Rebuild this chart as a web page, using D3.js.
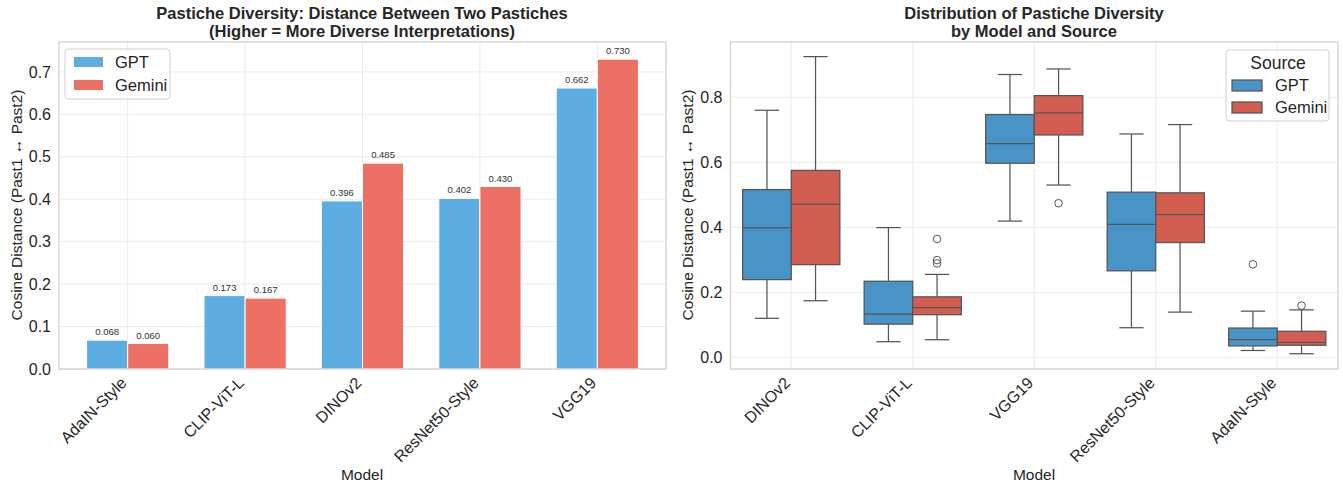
<!DOCTYPE html>
<html>
<head>
<meta charset="utf-8">
<script src="https://cdn.jsdelivr.net/npm/d3@7"></script>
<style>
  body { margin: 0; background: #fff; }
  text { font-family: "Liberation Sans", Arial, sans-serif; fill: #262626; }
</style>
</head>
<body>
<script>
// bar chart data
const barModels = ["AdaIN-Style", "CLIP-ViT-L", "DINOv2", "ResNet50-Style", "VGG19"]
const gptMeans = [0.068, 0.173, 0.396, 0.402, 0.662]
const geminiMeans = [0.060, 0.167, 0.485, 0.430, 0.730]

// box plot data: [lowWhisker, q1, median, q3, highWhisker]
const boxModels = ["DINOv2", "CLIP-ViT-L", "VGG19", "ResNet50-Style", "AdaIN-Style"]
const gptBoxes = [
  [0.120, 0.239, 0.398, 0.516, 0.760],
  [0.048, 0.102, 0.133, 0.234, 0.399],
  [0.419, 0.597, 0.657, 0.747, 0.870],
  [0.091, 0.266, 0.409, 0.508, 0.687],
  [0.021, 0.035, 0.054, 0.090, 0.142]
]
const geminiBoxes = [
  [0.174, 0.285, 0.471, 0.575, 0.925],
  [0.054, 0.131, 0.153, 0.186, 0.255],
  [0.530, 0.684, 0.752, 0.805, 0.887],
  [0.139, 0.353, 0.439, 0.506, 0.716],
  [0.011, 0.037, 0.046, 0.080, 0.146]
]
const gptOutliers = [[], [], [], [], [0.286]]
const geminiOutliers = [[], [0.364, 0.299, 0.289], [0.474], [], [0.159]]

const sources = ["GPT", "Gemini"]
const leftTicks = [0, 0.1, 0.2, 0.3, 0.4, 0.5, 0.6, 0.7]
const rightTicks = [0, 0.2, 0.4, 0.6, 0.8]

const w = 1343, h = 486
const svg = d3.select("body").append("svg").attr("width", w).attr("height", h)

const barColors = ["#5DADE2", "#EC7063"]
const boxColors = ["#4994C6", "#D25E52"]
const gridColor = "#ebebeb"
const frameColor = "#d0d0d0"
const lineColor = "#555555"

// ---------- left panel ----------
const xL = d3.scaleLinear().domain([-0.585, 4.585]).range([59, 666])
const yL = d3.scaleLinear().domain([0, 0.7705]).range([369, 42])
const left = svg.append("g")

left.selectAll(".hgrid").data(leftTicks).enter().append("line")
  .attr("x1", 59).attr("x2", 666)
  .attr("y1", d => yL(d)).attr("y2", d => yL(d))
  .attr("stroke", gridColor).attr("stroke-width", 1)
left.selectAll(".vgrid").data(barModels).enter().append("line")
  .attr("x1", (d, i) => xL(i)).attr("x2", (d, i) => xL(i))
  .attr("y1", 42).attr("y2", 369)
  .attr("stroke", gridColor).attr("stroke-width", 1)

const bw = 0.35
const barSeries = [gptMeans, geminiMeans]
barSeries.forEach((vals, s) => {
  left.selectAll(".bar" + s).data(vals).enter().append("rect")
    .attr("x", (d, i) => xL(i - bw + s * bw))
    .attr("width", xL(bw) - xL(0))
    .attr("y", d => yL(d))
    .attr("height", d => yL(0) - yL(d))
    .attr("fill", barColors[s])
    .attr("stroke", "#fff").attr("stroke-width", 1)
  left.selectAll(".lab" + s).data(vals).enter().append("text")
    .attr("x", (d, i) => xL(i - bw / 2 + s * bw))
    .attr("y", d => yL(d) - 5)
    .attr("text-anchor", "middle")
    .style("font-size", "9.5px").style("fill", "#333")
    .text(d => d.toFixed(3))
})

left.append("rect").attr("x", 59).attr("y", 42).attr("width", 607).attr("height", 327)
  .attr("fill", "none").attr("stroke", frameColor).attr("stroke-width", 1.25)

const yAxisL = d3.axisLeft(yL).tickValues(leftTicks).tickFormat(d3.format(".1f")).tickSize(0).tickPadding(8)
left.append("g").attr("transform", "translate(59,0)").call(yAxisL)
  .call(g => g.select(".domain").remove())
  .selectAll("text").style("font-size", "16px").style("fill", "#262626")
  .style("font-family", "Liberation Sans, Arial, sans-serif")

left.selectAll(".xlab").data(barModels).enter().append("text")
  .attr("transform", (d, i) => "translate(" + (xL(i) - 4) + ",380) rotate(-45)")
  .attr("text-anchor", "end").attr("dy", "0.35em")
  .style("font-size", "16px")
  .text(d => d)

left.append("text").attr("x", 362).attr("y", 480).attr("text-anchor", "middle")
  .style("font-size", "15.5px").text("Model")
left.append("text").attr("transform", "translate(22,205) rotate(-90)").attr("text-anchor", "middle")
  .style("font-size", "15.5px").text("Cosine Distance (Past1 \u2194 Past2)")
left.append("text").attr("x", 362).attr("y", 19).attr("text-anchor", "middle")
  .style("font-size", "16.5px").style("font-weight", "bold")
  .text("Pastiche Diversity: Distance Between Two Pastiches")
left.append("text").attr("x", 362).attr("y", 37).attr("text-anchor", "middle")
  .style("font-size", "16.5px").style("font-weight", "bold")
  .text("(Higher = More Diverse Interpretations)")

// left legend
const legL = left.append("g")
legL.append("rect").attr("x", 65).attr("y", 49).attr("width", 105).attr("height", 50)
  .attr("rx", 3).attr("fill", "#fff").attr("fill-opacity", 0.8).attr("stroke", "#d0d0d0")
sources.forEach((s, i) => {
  legL.append("rect").attr("x", 74).attr("y", 57 + i * 23).attr("width", 29).attr("height", 10)
    .attr("fill", barColors[i])
  legL.append("text").attr("x", 115).attr("y", 62 + i * 23).attr("dy", "0.35em")
    .style("font-size", "16.5px").text(s)
})

// ---------- right panel ----------
const xR = d3.scaleLinear().domain([-0.5, 4.5]).range([730.5, 1338])
const yR = d3.scaleLinear().domain([-0.036, 0.970]).range([369, 42])
const right = svg.append("g")

right.selectAll(".hgrid").data(rightTicks).enter().append("line")
  .attr("x1", 730.5).attr("x2", 1338)
  .attr("y1", d => yR(d)).attr("y2", d => yR(d))
  .attr("stroke", gridColor).attr("stroke-width", 1)
right.selectAll(".vgrid").data(boxModels).enter().append("line")
  .attr("x1", (d, i) => xR(i)).attr("x2", (d, i) => xR(i))
  .attr("y1", 42).attr("y2", 369)
  .attr("stroke", gridColor).attr("stroke-width", 1)

const boxW = 0.4
const boxSeries = [gptBoxes, geminiBoxes]
const outSeries = [gptOutliers, geminiOutliers]
boxSeries.forEach((boxes, s) => {
  boxes.forEach((b, i) => {
    const c = i - boxW / 2 + s * boxW
    const g = right.append("g")
    g.append("line").attr("x1", xR(c)).attr("x2", xR(c))
      .attr("y1", yR(b[0])).attr("y2", yR(b[1]))
      .attr("stroke", lineColor).attr("stroke-width", 1.25)
    g.append("line").attr("x1", xR(c)).attr("x2", xR(c))
      .attr("y1", yR(b[3])).attr("y2", yR(b[4]))
      .attr("stroke", lineColor).attr("stroke-width", 1.25)
    g.selectAll(".cap").data([b[0], b[4]]).enter().append("line")
      .attr("x1", xR(c - boxW / 4)).attr("x2", xR(c + boxW / 4))
      .attr("y1", d => yR(d)).attr("y2", d => yR(d))
      .attr("stroke", lineColor).attr("stroke-width", 1.25)
    g.append("rect").attr("x", xR(c - boxW / 2)).attr("width", xR(boxW) - xR(0))
      .attr("y", yR(b[3])).attr("height", yR(b[1]) - yR(b[3]))
      .attr("fill", boxColors[s]).attr("stroke", lineColor).attr("stroke-width", 1.25)
    g.append("line").attr("x1", xR(c - boxW / 2)).attr("x2", xR(c + boxW / 2))
      .attr("y1", yR(b[2])).attr("y2", yR(b[2]))
      .attr("stroke", lineColor).attr("stroke-width", 1.25)
    g.selectAll(".out").data(outSeries[s][i]).enter().append("circle")
      .attr("cx", xR(c)).attr("cy", d => yR(d)).attr("r", 3.8)
      .attr("fill", "none").attr("stroke", lineColor).attr("stroke-width", 1)
  })
})

right.append("rect").attr("x", 730.5).attr("y", 42).attr("width", 607.5).attr("height", 327)
  .attr("fill", "none").attr("stroke", frameColor).attr("stroke-width", 1.25)

const yAxisR = d3.axisLeft(yR).tickValues(rightTicks).tickFormat(d3.format(".1f")).tickSize(0).tickPadding(8)
right.append("g").attr("transform", "translate(730.5,0)").call(yAxisR)
  .call(g => g.select(".domain").remove())
  .selectAll("text").style("font-size", "16px").style("fill", "#262626")
  .style("font-family", "Liberation Sans, Arial, sans-serif")

right.selectAll(".xlab").data(boxModels).enter().append("text")
  .attr("transform", (d, i) => "translate(" + (xR(i) - 4) + ",380) rotate(-45)")
  .attr("text-anchor", "end").attr("dy", "0.35em")
  .style("font-size", "16px")
  .text(d => d)

right.append("text").attr("x", 1034).attr("y", 480).attr("text-anchor", "middle")
  .style("font-size", "15.5px").text("Model")
right.append("text").attr("transform", "translate(693,205) rotate(-90)").attr("text-anchor", "middle")
  .style("font-size", "15.5px").text("Cosine Distance (Past1 \u2194 Past2)")
right.append("text").attr("x", 1034).attr("y", 19).attr("text-anchor", "middle")
  .style("font-size", "16.5px").style("font-weight", "bold")
  .text("Distribution of Pastiche Diversity")
right.append("text").attr("x", 1034).attr("y", 37).attr("text-anchor", "middle")
  .style("font-size", "16.5px").style("font-weight", "bold")
  .text("by Model and Source")

// right legend
const legR = right.append("g")
legR.append("rect").attr("x", 1226).attr("y", 50).attr("width", 103).attr("height", 71)
  .attr("rx", 3).attr("fill", "#fff").attr("fill-opacity", 0.8).attr("stroke", "#d0d0d0")
legR.append("text").attr("x", 1278).attr("y", 63).attr("dy", "0.35em").attr("text-anchor", "middle")
  .style("font-size", "17.5px").text("Source")
sources.forEach((s, i) => {
  legR.append("rect").attr("x", 1232).attr("y", 80 + i * 22).attr("width", 30).attr("height", 11)
    .attr("fill", boxColors[i]).attr("stroke", lineColor).attr("stroke-width", 1.25)
  legR.append("text").attr("x", 1275).attr("y", 85.5 + i * 22).attr("dy", "0.35em")
    .style("font-size", "16.5px").text(s)
})
</script>
</body>
</html>
